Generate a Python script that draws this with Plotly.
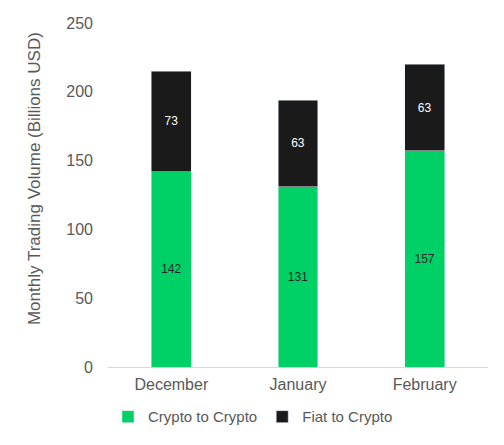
import plotly.graph_objects as go

months = ["December", "January", "February"]
crypto_to_crypto = [142, 131, 157]
fiat_to_crypto = [73, 63, 63]

fig = go.Figure()
fig.add_trace(go.Bar(x=months, y=crypto_to_crypto, name="Crypto to Crypto",
                     marker_color="#00D166", text=crypto_to_crypto,
                     textposition="inside", insidetextanchor="middle",
                     textfont=dict(color="#262626", size=12)))
fig.add_trace(go.Bar(x=months, y=fiat_to_crypto, name="Fiat to Crypto",
                     marker_color="#1a1a1a", text=fiat_to_crypto,
                     textposition="inside", insidetextanchor="middle",
                     textfont=dict(color="white", size=12)))

# page body adds an 8px offset, so the figure is a bit smaller than the window
fig.update_layout(
    barmode="stack", bargap=0.685,
    width=496, height=437,
    margin=dict(l=100, r=16, t=15, b=78, autoexpand=False),
    plot_bgcolor="white", paper_bgcolor="white",
    font=dict(family="Liberation Sans, Arial", color="#595959", size=16),
    legend=dict(orientation="h", x=0.0, xanchor="left", y=-0.145, yanchor="middle",
                font=dict(size=15, color="#595959"), itemwidth=30, traceorder="normal"),
    uniformtext=dict(minsize=12, mode="show"),
)
# y title sits a little above the plot centre in the original, so use an annotation
fig.add_annotation(text="Monthly Trading Volume (Billions USD)", textangle=-90,
                   xref="paper", yref="paper", x=-0.195, y=0.549,
                   xanchor="center", yanchor="middle", showarrow=False,
                   font=dict(size=17, color="#595959"))
fig.update_yaxes(range=[0, 250], dtick=50, showgrid=False, zeroline=False,
                 showline=False, automargin=False,
                 tickfont=dict(size=16), ticks="", ticklabelstandoff=14)
fig.update_xaxes(showline=True, linecolor="#d9d9d9", linewidth=1, ticks="",
                 automargin=False, tickfont=dict(size=16), ticklabelstandoff=3)

fig.write_html("out.html")
